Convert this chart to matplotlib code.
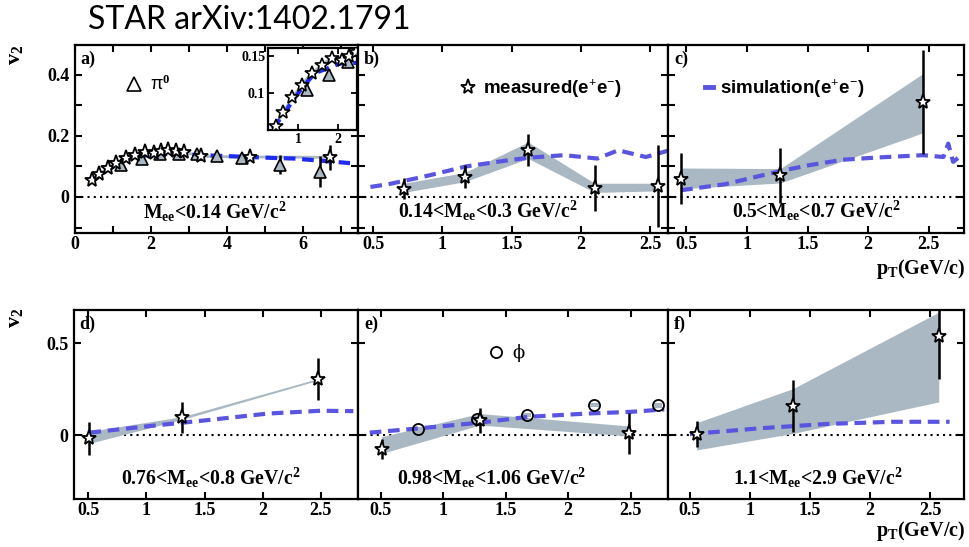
import matplotlib
matplotlib.use("Agg")
import matplotlib.pyplot as plt
from matplotlib.lines import Line2D
from matplotlib.ticker import MultipleLocator, FuncFormatter

# ---- data ----
# panel a) Mee < 0.14
a_pt = [0.44, 0.63, 0.86, 1.09, 1.34, 1.59, 1.84, 2.09, 2.27, 2.45, 2.65, 2.87, 3.33, 4.6, 6.71]
a_v2 = [0.055, 0.074, 0.094, 0.111, 0.127, 0.138, 0.148, 0.145, 0.15, 0.155, 0.152, 0.147, 0.133, 0.131, 0.13]
a_err = [0.004, 0.004, 0.004, 0.004, 0.004, 0.004, 0.004, 0.005, 0.005, 0.005, 0.006, 0.006, 0.008, 0.01, 0.04]
pi0_pt = [1.22, 1.76, 2.25, 2.75, 3.2, 3.75, 4.4, 5.4, 6.45]
pi0_v2 = [0.104, 0.124, 0.142, 0.142, 0.142, 0.134, 0.127, 0.106, 0.083]
pi0_err = [0.004, 0.005, 0.005, 0.005, 0.006, 0.007, 0.008, 0.03, 0.05]
pi0_sys = [0.008, 0.008, 0.008, 0.008, 0.008, 0.008, 0.008, 0.01, 0.012]
a_sim_pt = [0.36, 0.63, 0.88, 1.13, 1.42, 1.71, 2.05, 2.5, 3.3, 4.0, 4.6, 5.2, 5.75, 6.36, 7.24]
a_sim_v2 = [0.052, 0.07, 0.091, 0.109, 0.127, 0.133, 0.14, 0.141, 0.137, 0.134, 0.131, 0.128, 0.126, 0.12, 0.111]

# panel b) 0.14 < Mee < 0.3
b_pt = [0.72, 1.16, 1.62, 2.1, 2.56]
b_v2 = [0.027, 0.066, 0.153, 0.03, 0.036]
b_err = [0.035, 0.038, 0.053, 0.075, 0.135]
b_sys_lo = [0.015, 0.05, 0.126, 0.015, 0.02]
b_sys_hi = [0.045, 0.08, 0.18, 0.045, 0.045]
b_sim_pt = [0.48, 0.61, 0.86, 1.17, 1.47, 1.63, 1.88, 2.12, 2.27, 2.47, 2.64]
b_sim_v2 = [0.033, 0.042, 0.066, 0.1, 0.12, 0.129, 0.137, 0.126, 0.153, 0.131, 0.153]

# panel c) 0.5 < Mee < 0.7
c_pt = [0.456, 1.275, 2.45]
c_v2 = [0.06, 0.071, 0.311]
c_err = [0.084, 0.09, 0.17]
c_sys_lo = [0.027, 0.046, 0.21]
c_sys_hi = [0.095, 0.093, 0.404]
c_sim_pt = [0.456, 0.82, 1.275, 1.51, 1.79, 2.06, 2.45, 2.62, 2.66, 2.7, 2.77]
c_sim_v2 = [0.022, 0.042, 0.085, 0.104, 0.122, 0.129, 0.137, 0.131, 0.175, 0.115, 0.137]

# panel d) 0.76 < Mee < 0.8
d_pt = [0.51, 1.31, 2.48]
d_v2 = [-0.018, 0.096, 0.303]
d_err = [0.088, 0.085, 0.115]
d_sys_lo = [-0.045, 0.085, 0.298]
d_sys_hi = [0.02, 0.1, 0.308]
d_sim_pt = [0.51, 1.03, 1.48, 2.05, 2.5, 2.78]
d_sim_v2 = [0.013, 0.049, 0.078, 0.117, 0.132, 0.13]

# panel e) 0.98 < Mee < 1.06
e_pt = [0.505, 1.29, 2.49]
e_v2 = [-0.078, 0.081, 0.009]
e_err = [0.054, 0.068, 0.11]
e_sys_lo = [-0.1, 0.054, -0.005]
e_sys_hi = [-0.009, 0.117, 0.049]
e_sim_pt = [0.41, 0.8, 1.29, 1.68, 2.16, 2.5, 2.77]
e_sim_v2 = [0.013, 0.036, 0.067, 0.099, 0.117, 0.126, 0.139]
phi_pt = [0.8, 1.27, 1.67, 2.21, 2.72]
phi_v2 = [0.031, 0.085, 0.108, 0.162, 0.162]
phi_sys = [0.012, 0.012, 0.012, 0.012, 0.014]

# panel f) 1.1 < Mee < 2.9
f_pt = [0.556, 1.36, 2.57]
f_v2 = [0.005, 0.157, 0.536]
f_err = [0.07, 0.14, 0.23]
f_sys_lo = [-0.081, 0.009, 0.18]
f_sys_hi = [0.067, 0.253, 0.668]
f_sim_pt = [0.5, 1.07, 1.63, 2.19, 2.66]
f_sim_v2 = [0.005, 0.036, 0.06, 0.072, 0.072]

mass_labels = ["M$_{ee}$<0.14 GeV/c$^{2}$", "0.14<M$_{ee}$<0.3 GeV/c$^{2}$",
               "0.5<M$_{ee}$<0.7 GeV/c$^{2}$", "0.76<M$_{ee}$<0.8 GeV/c$^{2}$",
               "0.98<M$_{ee}$<1.06 GeV/c$^{2}$", "1.1<M$_{ee}$<2.9 GeV/c$^{2}$"]
panel_tags = ["a)", "b)", "c)", "d)", "e)", "f)"]

BAND = "#a9b8c2"
SIM = "#5a55e0"
SIM_A = "#1f2bf0"

plt.rcParams['font.family'] = 'Liberation Serif'
plt.rcParams['font.weight'] = 'bold'
plt.rcParams['mathtext.fontset'] = 'custom'
plt.rcParams['mathtext.rm'] = 'Liberation Serif:bold'
plt.rcParams['mathtext.it'] = 'Liberation Serif:bold'
plt.rcParams['mathtext.bf'] = 'Liberation Serif:bold'

W, H = 970, 547
fig = plt.figure(figsize=(9.7, 5.47), dpi=100)


def px_axes(left, top, right, bottom):
    return fig.add_axes([left / W, 1 - bottom / H, (right - left) / W, (bottom - top) / H])


fmt = FuncFormatter(lambda v, p: f"{v:g}")


def style(ax, xlim, ylim, xmaj, ymaj, xmin=None, ymin=None, ylabels=True, size=13):
    ax.set_xlim(*xlim)
    ax.set_ylim(*ylim)
    ax.xaxis.set_major_locator(MultipleLocator(xmaj))
    ax.yaxis.set_major_locator(MultipleLocator(ymaj))
    if xmin:
        ax.xaxis.set_minor_locator(MultipleLocator(xmin))
    if ymin:
        ax.yaxis.set_minor_locator(MultipleLocator(ymin))
    ax.xaxis.set_major_formatter(fmt)
    ax.yaxis.set_major_formatter(fmt)
    for which in ('major', 'minor'):
        ax.tick_params(which=which, direction='in', top=True, right=True,
                       length=5, width=1.5, labelsize=size)
    ax.tick_params(axis='x', pad=2)
    ax.tick_params(axis='y', pad=4)
    if not ylabels:
        ax.tick_params(labelleft=False)
    for sp in ax.spines.values():
        sp.set_linewidth(1.6)
    ax.axhline(0, color='black', ls=(0, (1, 2)), lw=1.5, zorder=1)


def measured(ax, pt, v2, err, lo=None, hi=None):
    if lo is not None:
        ax.fill_between(pt, lo, hi, color=BAND, lw=0, zorder=1.5)
    ax.errorbar(pt, v2, yerr=err, fmt='none', ecolor='black', elinewidth=1.8, capsize=0, zorder=3)
    ax.plot(pt, v2, ls='none', marker='*', ms=11, mfc='white', mec='black', mew=1.3, zorder=4)


def sim(ax, pt, v2, color=SIM):
    ax.plot(pt, v2, color=color, lw=3, dashes=(2.8, 1.6), zorder=2)


def tag(ax, i, x, y):
    ax.text(0.02, 0.97, panel_tags[i], transform=ax.transAxes, ha='left', va='top', fontsize=13)
    ax.text(x, y, mass_labels[i], transform=ax.transAxes, ha='center', va='center', fontsize=14.2)


top_lim = (-0.118, 0.498)
bot_lim = (-0.348, 0.68)

# ---- top row ----
ax_a = px_axes(75, 45, 358, 233)
style(ax_a, (0, 7.45), top_lim, 2, 0.2, 1, 0.1)
ax_a.plot(a_pt, a_v2, color=BAND, lw=2, zorder=1.5)
ax_a.bar(pi0_pt, [2 * s for s in pi0_sys], bottom=[v - s for v, s in zip(pi0_v2, pi0_sys)],
         width=0.12, color=BAND, zorder=1.6)
sim(ax_a, a_sim_pt, a_sim_v2, SIM_A)
ax_a.errorbar(pi0_pt, pi0_v2, yerr=pi0_err, fmt='none', ecolor='black', elinewidth=1.8, capsize=0, zorder=3)
ax_a.plot(pi0_pt, pi0_v2, ls='none', marker='^', ms=9, mfc=BAND, mec='black', mew=1.2, zorder=4)
measured(ax_a, a_pt, a_v2, a_err)
tag(ax_a, 0, 0.495, 0.11)
h_pi0 = Line2D([], [], ls='none', marker='^', ms=10, mfc='white', mec='black', mew=1.2)
ax_a.legend([h_pi0], ["π$^{0}$"], loc='center left', bbox_to_anchor=(0.17, 0.79), frameon=False,
            borderpad=0, borderaxespad=0, handletextpad=0.3, handlelength=1.2,
            prop={'family': 'Liberation Sans', 'size': 13, 'weight': 'normal'})

ax_in = px_axes(268, 48, 357, 130)
ax_in.set_xlim(0.25, 2.47)
ax_in.set_ylim(0.05, 0.161)
ax_in.set_xticks([1, 2])
ax_in.set_yticks([0.1, 0.15])
ax_in.xaxis.set_major_formatter(fmt)
ax_in.yaxis.set_major_formatter(fmt)
ax_in.tick_params(direction='in', top=True, right=True, length=4, width=1.3, labelsize=10, pad=2)
for sp in ax_in.spines.values():
    sp.set_linewidth(1.6)
ax_in.bar(pi0_pt, [2 * s for s in pi0_sys], bottom=[v - s for v, s in zip(pi0_v2, pi0_sys)],
          width=0.1, color=BAND, zorder=1.6)
ax_in.plot(a_pt, a_v2, color=BAND, lw=2, zorder=1.5)
sim(ax_in, a_sim_pt, a_sim_v2, SIM_A)
ax_in.plot(pi0_pt, pi0_v2, ls='none', marker='^', ms=9, mfc=BAND, mec='black', mew=1.2, zorder=4)
ax_in.plot(a_pt, a_v2, ls='none', marker='*', ms=10, mfc='white', mec='black', mew=1.2, zorder=5)

ax_b = px_axes(358, 45, 668, 233)
style(ax_b, (0.39, 2.63), top_lim, 0.5, 0.2, None, 0.1, ylabels=False)
sim(ax_b, b_sim_pt, b_sim_v2)
measured(ax_b, b_pt, b_v2, b_err, b_sys_lo, b_sys_hi)
tag(ax_b, 1, 0.42, 0.117)
h_star = Line2D([], [], ls='none', marker='*', ms=11, mfc='white', mec='black', mew=1.3)
ax_b.legend([h_star], ["measured(e$^{+}$e$^{-}$)"], loc='center left', bbox_to_anchor=(0.32, 0.77),
            frameon=False, borderpad=0, borderaxespad=0, handletextpad=0.2, handlelength=1.2,
            prop={'family': 'Liberation Sans', 'size': 13.5, 'weight': 'bold'})

ax_c = px_axes(668, 45, 964, 233)
style(ax_c, (0.348, 2.79), top_lim, 0.5, 0.2, None, 0.1, ylabels=False)
sim(ax_c, c_sim_pt, c_sim_v2)
measured(ax_c, c_pt, c_v2, c_err, c_sys_lo, c_sys_hi)
tag(ax_c, 2, 0.5, 0.117)
h_sim = Line2D([], [], color=SIM, lw=3.5)
ax_c.legend([h_sim], ["simulation(e$^{+}$e$^{-}$)"], loc='center left', bbox_to_anchor=(0.125, 0.77),
            frameon=False, borderpad=0, borderaxespad=0, handletextpad=0.35, handlelength=0.45,
            prop={'family': 'Liberation Sans', 'size': 13.5, 'weight': 'bold'})

# ---- bottom row ----
ax_d = px_axes(74, 310, 358, 499)
style(ax_d, (0.377, 2.82), bot_lim, 0.5, 0.5)
sim(ax_d, d_sim_pt, d_sim_v2)
measured(ax_d, d_pt, d_v2, d_err, d_sys_lo, d_sys_hi)
tag(ax_d, 3, 0.48, 0.11)

ax_e = px_axes(358, 310, 668, 499)
style(ax_e, (0.316, 2.8), bot_lim, 0.5, 0.5, ylabels=False)
ax_e.bar(phi_pt, [2 * s for s in phi_sys], bottom=[v - s for v, s in zip(phi_v2, phi_sys)],
         width=0.07, color=BAND, zorder=1.6)
sim(ax_e, e_sim_pt, e_sim_v2)
ax_e.plot(phi_pt, phi_v2, ls='none', marker='o', ms=8, mfc='none', mec='black', mew=1.3, zorder=3.5)
measured(ax_e, e_pt, e_v2, e_err, e_sys_lo, e_sys_hi)
tag(ax_e, 4, 0.43, 0.11)
h_phi = Line2D([], [], ls='none', marker='o', ms=8, mfc='white', mec='black', mew=1.3)
ax_e.legend([h_phi], ["ϕ"], loc='center left', bbox_to_anchor=(0.41, 0.77), frameon=False,
            borderpad=0, borderaxespad=0, handletextpad=0.3, handlelength=1.2,
            prop={'family': 'DejaVu Serif', 'size': 13, 'weight': 'normal'})

ax_f = px_axes(668, 310, 964, 499)
style(ax_f, (0.318, 2.78), bot_lim, 0.5, 0.5, ylabels=False)
sim(ax_f, f_sim_pt, f_sim_v2)
measured(ax_f, f_pt, f_v2, f_err, f_sys_lo, f_sys_hi)
tag(ax_f, 5, 0.507, 0.11)

# ---- axis titles ----
for yc in (55, 318):
    fig.text(15 / W, 1 - yc / H, "v$_{2}$", rotation=90, ha='center', va='center', fontsize=16)
for yb in (274, 536):
    fig.text(965 / W, 1 - yb / H, "p$_{T}$(GeV/c)", ha='right', va='baseline', fontsize=14.5)

fig.text(88 / W, 1 - 20 / H, "STAR arXiv:1402.1791", family='Lato', weight='normal',
         fontsize=23, ha='left', va='center')

fig.savefig("out.png", dpi=100)
